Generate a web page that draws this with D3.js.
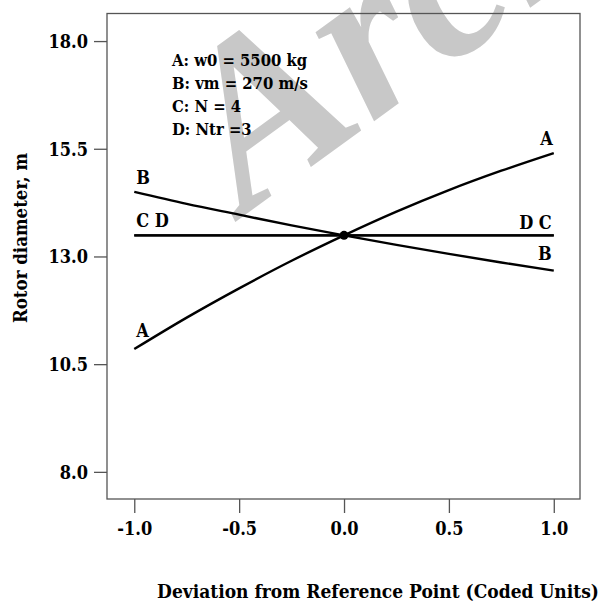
<!DOCTYPE html>
<html>
<head>
<meta charset="utf-8">
<script src="https://cdn.jsdelivr.net/npm/d3@7"></script>
<style>
html,body{margin:0;padding:0;background:#fff;}
svg text.t{font-family:"DejaVu Serif Condensed","DejaVu Serif",serif;font-stretch:condensed;font-weight:bold;}
</style>
</head>
<body>
<svg id="chart" width="600" height="603"></svg>
<script>
const xCoded = [-1, -0.75, -0.5, -0.25, 0, 0.25, 0.5, 0.75, 1];
const seriesA = [10.85, 11.58, 12.26, 12.90, 13.49, 14.04, 14.54, 14.99, 15.40];
const seriesB = [14.50, 14.22, 13.97, 13.72, 13.49, 13.27, 13.06, 12.86, 12.67];
const seriesC = [13.49, 13.49, 13.49, 13.49, 13.49, 13.49, 13.49, 13.49, 13.49];
const seriesD = [13.49, 13.49, 13.49, 13.49, 13.49, 13.49, 13.49, 13.49, 13.49];
const xTicks = [-1.0, -0.5, 0.0, 0.5, 1.0];
const yTicks = [8.0, 10.5, 13.0, 15.5, 18.0];
const legendLines = ["A: w0 = 5500 kg", "B: vm = 270 m/s", "C: N = 4", "D: Ntr =3"];
const refPoint = {x: 0, y: 13.49};

const svg = d3.select("#chart");
const L = 107, R = 580, T = 13.5, B = 499;
const x = d3.scaleLinear().domain([-1.13, 1.125]).range([L, R]);
const y = d3.scaleLinear().domain([7.37, 18.64]).range([B, T]);
const fmt = d => d.toFixed(1);

// watermark
svg.append("text")
  .attr("transform", "translate(245,215) rotate(-36)")
  .style("font-family", "'Liberation Serif', serif")
  .style("font-style", "italic")
  .style("font-weight", "bold")
  .attr("font-size", 232)
  .attr("fill", "#c8c8c8")
  .text("Archive");

// frame
svg.append("rect").attr("x", L).attr("y", T).attr("width", R - L).attr("height", B - T)
  .attr("fill", "none").attr("stroke", "#555").attr("stroke-width", 1.3);

const xAxis = svg.append("g").attr("transform", `translate(0,${B})`)
  .call(d3.axisBottom(x).tickValues(xTicks).tickFormat(fmt).tickSize(14).tickPadding(8));
const yAxis = svg.append("g").attr("transform", `translate(${L},0)`)
  .call(d3.axisLeft(y).tickValues(yTicks).tickFormat(fmt).tickSize(13).tickPadding(6));
[xAxis, yAxis].forEach(g => {
  g.select(".domain").remove();
  g.selectAll(".tick line").attr("stroke", "#555").attr("stroke-width", 1.3);
  g.selectAll(".tick text").attr("class", "t").attr("fill", "#000").attr("font-size", 18);
});
xAxis.selectAll(".tick text").attr("dy", null).attr("y", 36);
yAxis.selectAll(".tick text").attr("dy", "0.36em");

const line = d3.line().x((d, i) => x(xCoded[i])).y(d => y(d)).curve(d3.curveMonotoneX);
[seriesC, seriesD, seriesB, seriesA].forEach(s => {
  svg.append("path").datum(s).attr("d", line).attr("fill", "none")
    .attr("stroke", "#000").attr("stroke-width", 2.4);
});
svg.append("circle").attr("cx", x(refPoint.x)).attr("cy", y(refPoint.y)).attr("r", 4.5).attr("fill", "#000");

// series labels
const labels = [
  {t: "B", xv: -1, yv: seriesB[0], dx: 2, dy: -8, anchor: "start"},
  {t: "C D", xv: -1, yv: seriesC[0], dx: 2, dy: -8, anchor: "start"},
  {t: "A", xv: -1, yv: seriesA[0], dx: 2, dy: -12, anchor: "start"},
  {t: "A", xv: 1, yv: seriesA[8], dx: -1, dy: -8, anchor: "end"},
  {t: "D C", xv: 1, yv: seriesC[8], dx: -2, dy: -6, anchor: "end"},
  {t: "B", xv: 1, yv: seriesB[8], dx: -2, dy: -11, anchor: "end"}
];
labels.forEach(l => {
  svg.append("text").attr("class", "t").attr("x", x(l.xv) + l.dx).attr("y", y(l.yv) + l.dy)
    .attr("text-anchor", l.anchor).attr("font-size", 18).attr("fill", "#000").text(l.t);
});

// legend
legendLines.forEach((t, i) => {
  svg.append("text").attr("class", "t").attr("x", 172).attr("y", 66 + i * 23)
    .attr("font-size", 16.5).attr("fill", "#000").text(t);
});

// axis titles
svg.append("text").attr("class", "t").attr("x", 378).attr("y", 598).attr("text-anchor", "middle")
  .attr("font-size", 19).attr("fill", "#000").text("Deviation from Reference Point (Coded Units)");
svg.append("text").attr("class", "t").attr("transform", "translate(27,238) rotate(-90)").attr("text-anchor", "middle")
  .attr("font-size", 18.5).attr("fill", "#000").text("Rotor diameter, m");
</script>
</body>
</html>
